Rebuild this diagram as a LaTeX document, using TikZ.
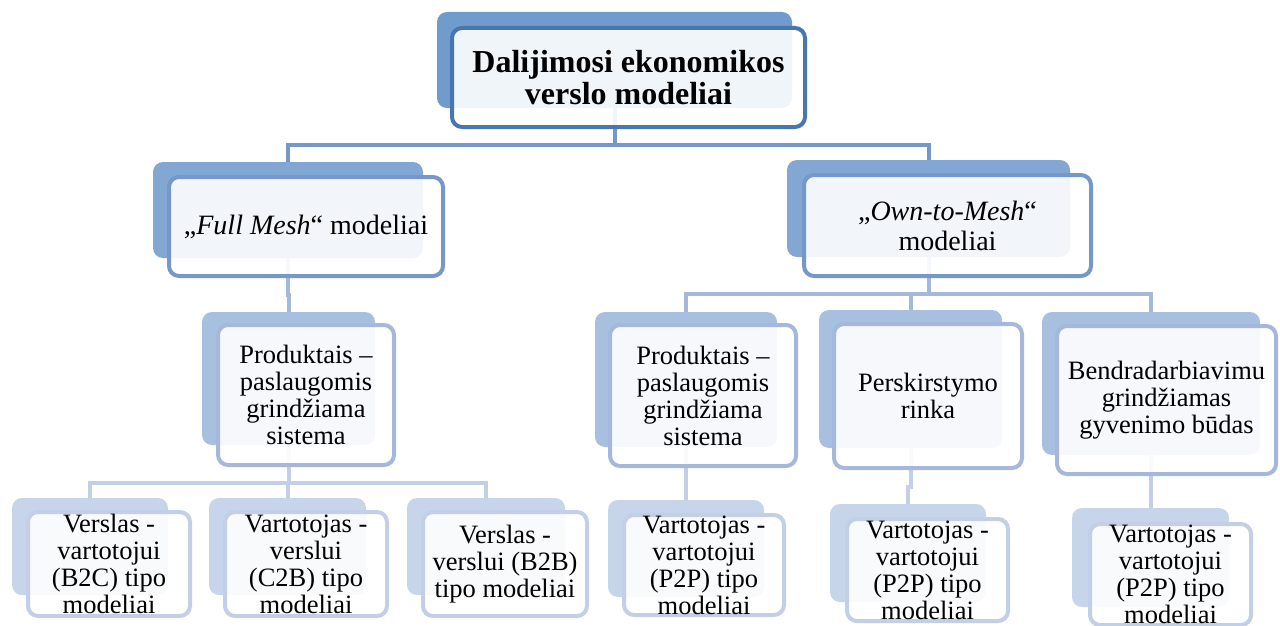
\documentclass[tikz,border=0pt]{standalone}
\usepackage{fontspec}
\setmainfont{Liberation Serif}
\usetikzlibrary{backgrounds}
\definecolor{lzeroback}{HTML}{6F9BCD}
\definecolor{lzeroline}{HTML}{4A76AE}
\definecolor{loneback}{HTML}{82A7D2}
\definecolor{loneline}{HTML}{7698C9}
\definecolor{ltwoback}{HTML}{A8C0DF}
\definecolor{ltwoline}{HTML}{A5B8D9}
\definecolor{lthreeback}{HTML}{C7D5EA}
\definecolor{lthreeline}{HTML}{C3CFE4}
\begin{document}
\begin{tikzpicture}[x=1pt, y=-1pt,
	backbox/.style={rectangle, rounded corners=10pt, inner sep=0pt},
	frontbox/.style={rectangle, rounded corners=10pt, line width=4pt, fill=white, fill opacity=0.9, text opacity=1, inner sep=0pt, align=center},
	boxsize/.style 2 args={minimum width=#1, minimum height=#2},
	lzerosh/.style={backbox, fill=lzeroback},
	lzero/.style={frontbox, draw=lzeroline, font=\fontsize{32}{32}\selectfont\bfseries},
	lonesh/.style={backbox, fill=loneback},
	lone/.style={frontbox, draw=loneline, font=\fontsize{28}{30}\selectfont},
	ltwosh/.style={backbox, fill=ltwoback},
	ltwo/.style={frontbox, draw=ltwoline, font=\fontsize{26.5}{27}\selectfont},
	lthreesh/.style={backbox, fill=lthreeback},
	lthree/.style={frontbox, draw=lthreeline, font=\fontsize{26.5}{27}\selectfont},
	connone/.style={draw=loneline, line width=4pt},
	conntwo/.style={draw=ltwoline, line width=4pt},
	connthree/.style={draw=lthreeline, line width=4pt}]
	\useasboundingbox (0,0) rectangle (1280,626);
	% Top
	\node (rootsh) [lzerosh, boxsize={355}{96}] at (614.5,60) {};
	\node (root) [lzero, boxsize={353}{99}] at (628.5,77.5) {Dalijimosi ekonomikos\\verslo modeliai};
	% Level 1
	\node (fullsh) [lonesh, boxsize={270}{96}] at (288,210) {};
	\node (full) [lone, boxsize={274}{99}] at (306,226.5) {„\textit{Full Mesh}“ modeliai};
	\node (ownsh) [lonesh, boxsize={283}{97}] at (928.5,208.5) {};
	\node (own) [lone, boxsize={287}{101}] at (947.5,225.5) {„\textit{Own-to-Mesh}“\\modeliai};
	% Level 2
	\node (prodfullsh) [ltwosh, boxsize={173}{133}] at (288.5,378.5) {};
	\node (prodfull) [ltwo, boxsize={176}{140}] at (306,395) {Produktais –\\paslaugomis\\grindžiama\\sistema};
	\node (prodownsh) [ltwosh, boxsize={182}{135}] at (686,379.5) {};
	\node (prodown) [ltwo, boxsize={186}{141}] at (703,395.5) {Produktais –\\paslaugomis\\grindžiama\\sistema};
	\node (redistsh) [ltwosh, boxsize={183}{138}] at (910.5,379) {};
	\node (redist) [ltwo, boxsize={188}{144}] at (928,396) {Perskirstymo\\rinka};
	\node (collabsh) [ltwosh, boxsize={218}{143}] at (1151,383.5) {};
	\node (collab) [ltwo, boxsize={219}{148}] at (1166.5,400) {Bendradarbiavimu\\grindžiamas\\gyvenimo būdas};
	% Level 3
	\node (btocsh) [lthreesh, boxsize={156}{97}] at (90,546.5) {};
	\node (btoc) [lthree, boxsize={162}{104}] at (109,564) {Verslas -\\vartotojui\\(B2C) tipo\\modeliai};
	\node (ctobsh) [lthreesh, boxsize={157}{97}] at (287.5,546.5) {};
	\node (ctob) [lthree, boxsize={162}{104}] at (306,564) {Vartotojas -\\verslui\\(C2B) tipo\\modeliai};
	\node (btobsh) [lthreesh, boxsize={158}{97}] at (486,546.5) {};
	\node (btob) [lthree, boxsize={164}{104}] at (505,564) {Verslas -\\verslui (B2B)\\tipo modeliai};
	\node (ptopash) [lthreesh, boxsize={156}{97}] at (686,548.5) {};
	\node (ptopa) [lthree, boxsize={160}{100}] at (704,565) {Vartotojas -\\vartotojui\\(P2P) tipo\\modeliai};
	\node (ptopbsh) [lthreesh, boxsize={156}{98}] at (908,553) {};
	\node (ptopb) [lthree, boxsize={161}{102}] at (927.5,570) {Vartotojas -\\vartotojui\\(P2P) tipo\\modeliai};
	\node (ptopcsh) [lthreesh, boxsize={157}{99}] at (1150.5,557.5) {};
	\node (ptopc) [lthree, boxsize={161}{101}] at (1170.5,574.5) {Vartotojas -\\vartotojui\\(P2P) tipo\\modeliai};
	% Connectors
	\begin{pgfonlayer}{background}
		\coordinate (busroot) at (0,144.5);
		\coordinate (busfull) at (0,295);
		\coordinate (busown) at (0,294);
		\coordinate (busprodfull) at (0,483);
		\coordinate (busprodown) at (0,484);
		\coordinate (busredist) at (0,487);
		\coordinate (buscollab) at (0,491.5);
		\draw[connone] (rootsh.south) -- (rootsh.south |- busroot) -| (fullsh.north);
		\draw[connone] (rootsh.south) -- (rootsh.south |- busroot) -| (ownsh.north);
		\draw[conntwo] (fullsh.south) -- (fullsh.south |- busfull) -| (prodfullsh.north);
		\draw[conntwo] (ownsh.south) -- (ownsh.south |- busown) -| (prodownsh.north);
		\draw[conntwo] (ownsh.south) -- (ownsh.south |- busown) -| (redistsh.north);
		\draw[conntwo] (ownsh.south) -- (ownsh.south |- busown) -| (collabsh.north);
		\draw[connthree] (prodfullsh.south) -- (prodfullsh.south |- busprodfull) -| (btocsh.north);
		\draw[connthree] (prodfullsh.south) -- (prodfullsh.south |- busprodfull) -| (ctobsh.north);
		\draw[connthree] (prodfullsh.south) -- (prodfullsh.south |- busprodfull) -| (btobsh.north);
		\draw[connthree] (prodownsh.south) -- (prodownsh.south |- busprodown) -| (ptopash.north);
		\draw[connthree] (redistsh.south) -- (redistsh.south |- busredist) -| (ptopbsh.north);
		\draw[connthree] (collabsh.south) -- (collabsh.south |- buscollab) -| (ptopcsh.north);
	\end{pgfonlayer}
\end{tikzpicture}
\end{document}
